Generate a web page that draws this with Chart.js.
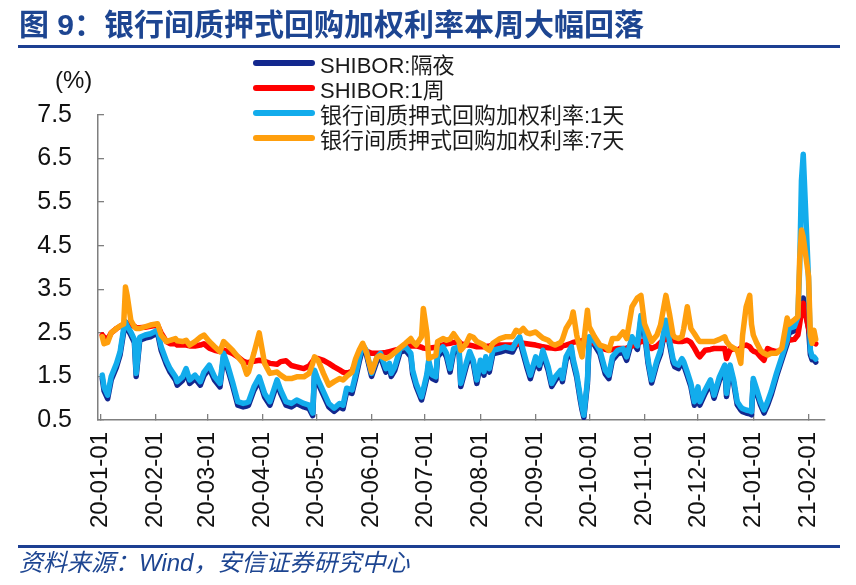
<!DOCTYPE html>
<html>
<head>
<meta charset="utf-8">
<script src="https://cdn.jsdelivr.net/npm/chart.js@4.4.1/dist/chart.umd.min.js"></script>
<style>
  body { margin: 0; background: #fff; }
  #wrap { position: relative; width: 856px; height: 585px; overflow: hidden; font-family: "Liberation Sans", "Noto Sans CJK SC", sans-serif; }
  #chart { position: absolute; left: 0; top: 0; }
  .title { position: absolute; left: 19px; top: 7px; font-size: 30px; line-height: 36px; font-weight: bold; color: #1d4591; white-space: nowrap; }
  .rule { position: absolute; left: 18px; width: 822px; height: 3px; background: #1d3f92; }
  .unit { position: absolute; left: 55px; top: 65px; font-size: 24px; line-height: 30px; color: #111; }
  #legend { position: absolute; left: 253px; top: 50px; font-size: 22px; color: #1a1a1a; }
  #legend .row { display: flex; align-items: center; height: 25px; white-space: nowrap; }
  #legend .swatch { width: 62px; height: 6px; border-radius: 3px; margin-right: 5px; }
  .source { position: absolute; left: 19px; top: 548px; font-size: 24px; line-height: 30px; font-style: italic; color: #1d4591; white-space: nowrap; }
</style>
</head>
<body>
<div id="wrap">
  <canvas id="chart" width="856" height="585"></canvas>
  <div class="title">图 9：银行间质押式回购加权利率本周大幅回落</div>
  <div class="rule" style="top:45px"></div>
  <div class="unit">(%)</div>
  <div id="legend"></div>
  <div class="rule" style="top:545px"></div>
  <div class="source">资料来源：Wind，安信证券研究中心</div>
</div>
<script>
const dates = [
  '2020-01-02','2020-01-03','2020-01-05','2020-01-07','2020-01-10','2020-01-12','2020-01-14','2020-01-15','2020-01-16','2020-01-18',
  '2020-01-20','2020-01-21','2020-01-23','2020-01-26','2020-01-29','2020-02-02','2020-02-04','2020-02-07','2020-02-09','2020-02-12',
  '2020-02-13','2020-02-16','2020-02-18','2020-02-20','2020-02-23','2020-02-26','2020-02-28','2020-03-02','2020-03-05','2020-03-08',
  '2020-03-10','2020-03-12','2020-03-15','2020-03-18','2020-03-21','2020-03-23','2020-03-24','2020-03-27','2020-03-30','2020-04-02',
  '2020-04-05','2020-04-09','2020-04-11','2020-04-14','2020-04-17','2020-04-20','2020-04-24','2020-04-27','2020-04-29','2020-04-30',
  '2020-05-02','2020-05-05','2020-05-08','2020-05-11','2020-05-14','2020-05-16','2020-05-18','2020-05-21','2020-05-23','2020-05-25',
  '2020-05-27','2020-05-29','2020-06-01','2020-06-04','2020-06-06','2020-06-09','2020-06-11','2020-06-12','2020-06-14','2020-06-17',
  '2020-06-20','2020-06-23','2020-06-24','2020-06-26','2020-06-29','2020-06-30','2020-07-02','2020-07-03','2020-07-05','2020-07-07',
  '2020-07-08','2020-07-11','2020-07-13','2020-07-15','2020-07-17','2020-07-20','2020-07-21','2020-07-24','2020-07-26','2020-07-28',
  '2020-07-30','2020-08-01','2020-08-03','2020-08-04','2020-08-06','2020-08-08','2020-08-12','2020-08-15','2020-08-19','2020-08-21',
  '2020-08-23','2020-08-25','2020-08-27','2020-08-29','2020-09-01','2020-09-03','2020-09-05','2020-09-08','2020-09-10','2020-09-12',
  '2020-09-15','2020-09-16','2020-09-18','2020-09-21','2020-09-22','2020-09-24','2020-09-26','2020-09-27','2020-09-28','2020-09-30',
  '2020-10-01','2020-10-04','2020-10-07','2020-10-10','2020-10-12','2020-10-14','2020-10-17','2020-10-20','2020-10-22','2020-10-25',
  '2020-10-28','2020-10-30','2020-11-01','2020-11-03','2020-11-05','2020-11-08','2020-11-10','2020-11-13','2020-11-15','2020-11-17',
  '2020-11-18','2020-11-20','2020-11-22','2020-11-23','2020-11-25','2020-11-27','2020-11-29','2020-12-01','2020-12-02','2020-12-05',
  '2020-12-08','2020-12-10','2020-12-13','2020-12-16','2020-12-17','2020-12-19','2020-12-21','2020-12-23','2020-12-25','2020-12-26',
  '2020-12-28','2020-12-30','2020-12-31','2021-01-01','2021-01-03','2021-01-05','2021-01-07','2021-01-09','2021-01-11','2021-01-14',
  '2021-01-17','2021-01-20','2021-01-21','2021-01-24','2021-01-26','2021-01-27','2021-01-28','2021-01-29','2021-02-01','2021-02-02',
  '2021-02-03','2021-02-04','2021-02-05'
];

// SHIBOR:隔夜
const shiborON = [
  1.45,1.17,0.99,1.42,1.72,2.00,2.52,2.70,2.60,2.45,
  2.28,1.50,2.33,2.38,2.41,2.50,2.10,1.77,1.60,1.42,
  1.30,1.41,1.60,1.34,1.45,1.30,1.52,1.68,1.41,1.26,
  1.95,1.72,1.30,0.84,0.80,0.82,0.84,1.18,1.41,1.03,
  0.84,1.34,1.11,0.84,0.80,0.88,0.80,0.76,0.60,1.56,
  1.34,1.07,0.80,0.70,0.80,0.76,1.15,1.11,1.45,1.83,
  2.15,2.02,1.50,1.86,1.95,1.60,1.72,1.50,1.64,2.06,
  2.10,1.95,1.56,1.27,0.96,1.12,1.47,1.80,1.45,1.41,
  1.95,2.10,1.95,1.60,2.06,2.10,1.27,1.72,2.00,1.80,
  1.34,1.80,1.53,1.87,1.60,2.02,2.06,2.10,2.06,2.22,
  2.33,2.02,1.72,1.45,1.87,1.68,2.02,1.64,1.27,1.41,
  1.56,1.38,1.87,2.10,1.82,1.48,0.96,0.73,0.56,1.33,
  2.33,2.22,2.02,1.56,1.45,1.87,2.02,2.06,1.87,2.33,
  2.12,2.80,2.52,1.80,1.35,1.80,2.02,2.70,2.25,1.82,
  1.72,1.68,1.83,1.76,1.52,1.27,0.84,1.18,0.84,1.11,
  1.34,1.00,1.41,1.68,1.04,1.68,1.35,0.85,0.73,0.69,
  0.66,0.64,0.62,1.38,1.11,0.85,0.66,0.84,1.07,1.50,
  1.88,2.25,2.50,2.55,2.78,3.00,3.20,3.30,2.60,2.00,
  1.88,1.88,1.83
];

// SHIBOR:1周
const shibor1W = [
  2.45,2.40,2.35,2.50,2.60,2.65,2.70,2.75,2.72,2.68,
  2.65,2.62,2.62,2.63,2.65,2.68,2.50,2.30,2.25,2.25,
  2.22,2.22,2.22,2.20,2.20,2.22,2.25,2.15,2.10,2.07,
  2.10,2.08,2.03,1.95,1.85,1.82,1.82,1.85,1.87,1.85,
  1.80,1.78,1.84,1.86,1.75,1.72,1.68,1.74,1.85,1.91,
  1.91,1.87,1.80,1.72,1.65,1.60,1.57,1.62,1.80,2.00,
  2.14,2.08,2.03,2.03,2.03,2.05,2.07,2.08,2.10,2.13,
  2.18,2.20,2.20,2.20,2.17,2.15,2.14,2.15,2.16,2.17,
  2.20,2.22,2.25,2.26,2.28,2.30,2.25,2.22,2.22,2.20,
  2.18,2.18,2.18,2.19,2.20,2.22,2.22,2.22,2.22,2.24,
  2.25,2.26,2.25,2.24,2.22,2.20,2.18,2.16,2.15,2.14,
  2.16,2.20,2.22,2.26,2.28,2.30,2.31,2.32,2.33,2.33,
  2.30,2.26,2.20,2.12,2.10,2.12,2.14,2.14,2.15,2.20,
  2.25,2.30,2.30,2.20,2.14,2.20,2.28,2.37,2.35,2.33,
  2.31,2.30,2.30,2.31,2.33,2.28,2.15,2.00,1.95,2.10,
  2.12,2.14,2.14,2.14,1.91,2.10,2.14,2.10,2.15,2.20,
  2.22,2.18,2.12,2.08,2.05,1.95,1.87,2.14,2.10,2.07,
  2.10,2.30,2.33,2.35,2.45,2.70,3.00,3.18,2.60,2.40,
  2.30,2.28,2.25
];

// 银行间质押式回购加权利率:1天
const repo1D = [
  1.53,1.25,1.07,1.50,1.80,2.07,2.60,2.75,2.65,2.52,
  2.35,1.57,2.40,2.45,2.48,2.56,2.18,1.85,1.68,1.50,
  1.38,1.49,1.68,1.42,1.53,1.38,1.60,1.76,1.49,1.34,
  2.03,1.80,1.38,0.92,0.88,0.90,0.92,1.26,1.49,1.11,
  0.92,1.42,1.19,0.92,0.88,0.96,0.88,0.84,0.66,1.64,
  1.42,1.15,0.88,0.77,0.88,0.84,1.23,1.19,1.53,1.91,
  2.22,2.10,1.57,1.94,2.03,1.68,1.80,1.57,1.72,2.14,
  2.18,2.03,1.64,1.34,1.03,1.20,1.55,1.87,1.53,1.49,
  2.03,2.18,2.03,1.68,2.14,2.18,1.34,1.80,2.07,1.87,
  1.42,1.87,1.61,1.95,1.68,2.10,2.14,2.18,2.14,2.30,
  2.41,2.10,1.80,1.53,1.95,1.76,2.10,1.72,1.34,1.49,
  1.64,1.45,1.95,2.18,1.90,1.55,1.03,0.80,0.61,1.40,
  2.41,2.30,2.10,1.64,1.53,1.95,2.10,2.14,1.95,2.41,
  2.20,2.90,2.60,1.87,1.42,1.87,2.10,2.79,2.33,1.90,
  1.80,1.76,1.91,1.84,1.60,1.34,0.92,1.26,0.92,1.19,
  1.42,1.07,1.49,1.76,1.11,1.76,1.42,0.92,0.80,0.76,
  0.73,0.71,0.69,1.45,1.19,0.92,0.73,0.92,1.15,1.57,
  1.95,2.33,2.60,2.64,2.87,4.00,6.00,6.60,3.70,2.10,
  1.95,1.95,1.90
];

// 银行间质押式回购加权利率:7天
const repo7D = [
  2.41,2.25,2.28,2.50,2.60,2.66,2.70,3.55,3.35,2.79,
  2.64,2.60,2.60,2.64,2.68,2.71,2.45,2.30,2.33,2.37,
  2.32,2.30,2.33,2.22,2.30,2.40,2.45,2.30,2.18,2.07,
  2.30,2.22,2.10,1.95,1.80,1.55,1.60,2.03,2.50,1.80,
  1.57,1.60,1.53,1.45,1.45,1.49,1.49,1.57,1.80,1.95,
  1.87,1.57,1.30,1.38,1.45,1.42,1.50,1.60,1.90,2.10,
  2.26,2.07,1.60,1.94,1.98,1.91,1.95,1.98,2.05,2.16,
  2.26,2.37,2.30,2.22,2.41,3.06,2.50,1.91,1.95,1.98,
  2.30,2.37,2.33,2.36,2.48,2.30,2.10,2.25,2.43,2.40,
  2.30,2.26,2.22,2.16,2.10,2.26,2.37,2.41,2.41,2.56,
  2.52,2.60,2.50,2.48,2.52,2.45,2.38,2.33,2.25,2.22,
  2.28,2.35,2.60,2.80,2.98,2.45,2.10,1.95,2.30,3.02,
  2.64,2.41,2.22,2.18,2.10,2.37,2.37,2.52,2.37,3.10,
  3.30,3.36,2.71,2.50,2.30,2.45,2.68,3.36,2.94,2.45,
  2.40,2.37,2.41,2.60,3.10,2.60,2.48,2.35,2.30,2.30,
  2.30,2.30,2.35,2.41,2.30,2.20,2.15,2.10,1.80,2.45,
  3.10,3.36,2.70,2.45,2.26,2.10,2.03,1.99,2.03,2.03,
  2.15,2.84,2.70,2.80,2.87,4.20,4.86,4.70,3.79,2.45,
  2.26,2.56,2.35
];

const yTicks = [0.5, 1.5, 2.5, 3.5, 4.5, 5.5, 6.5, 7.5];
const xTickLabels = ['20-01-01','20-02-01','20-03-01','20-04-01','20-05-01','20-06-01','20-07-01',
  '20-08-01','20-09-01','20-10-01','20-11-01','20-12-01','21-01-01','21-02-01'];

const day0 = Date.UTC(2020, 0, 1);
function dayNum(y, m, d) {
  return (Date.UTC(y, m - 1, d) - day0) / 86400000;
}
function fromIso(s) {
  const p = s.split('-').map(Number);
  return dayNum(p[0], p[1], p[2]);
}
function fromTick(s) {
  const p = s.split('-').map(Number);
  return dayNum(2000 + p[0], p[1], p[2]);
}
const tickDays = xTickLabels.map(fromTick);

function points(values) {
  return dates.map((d, i) => ({ x: fromIso(d), y: values[i] }));
}

function lineSet(label, values, color, order) {
  return {
    label: label,
    data: points(values),
    borderColor: color,
    backgroundColor: color,
    borderWidth: 5.5,
    pointRadius: 0,
    tension: 0,
    borderJoinStyle: 'round',
    borderCapStyle: 'round',
    order: order
  };
}

const axisGray = '#7f7f7f';
const labelFont = { family: '"Liberation Sans", Arial, sans-serif' };

const chart = new Chart(document.getElementById('chart'), {
  type: 'line',
  data: {
    datasets: [
      lineSet('SHIBOR:隔夜', shiborON, '#13288e', 4),
      lineSet('SHIBOR:1周', shibor1W, '#ff0000', 3),
      lineSet('银行间质押式回购加权利率:1天', repo1D, '#12acec', 2),
      lineSet('银行间质押式回购加权利率:7天', repo7D, '#ff9f0d', 1)
    ]
  },
  options: {
    responsive: false,
    animation: false,
    events: [],
    layout: { padding: { top: 115, right: 28, bottom: 0, left: 0 } },
    plugins: {
      legend: { display: false },
      tooltip: { enabled: false }
    },
    scales: {
      x: {
        type: 'linear',
        min: -1.4,
        max: 406,
        afterBuildTicks: axis => { axis.ticks = tickDays.map(v => ({ value: v })); },
        afterFit: axis => { axis.height = 165; },
        ticks: {
          autoSkip: false,
          minRotation: 90,
          maxRotation: 90,
          padding: 18,
          color: '#111',
          font: Object.assign({ size: 24 }, labelFont),
          callback: (v, i) => xTickLabels[i]
        },
        grid: { drawOnChartArea: false, drawTicks: true, tickLength: -6, color: axisGray, lineWidth: 1.3 },
        border: { color: axisGray, width: 1.5 }
      },
      y: {
        min: 0.5,
        max: 7.5,
        afterBuildTicks: axis => { axis.ticks = yTicks.map(v => ({ value: v })); },
        afterFit: axis => { axis.width = 98; },
        ticks: {
          padding: 32,
          color: '#111',
          font: Object.assign({ size: 25 }, labelFont),
          callback: v => v.toFixed(1)
        },
        grid: { drawOnChartArea: false, drawTicks: true, tickLength: -6, color: axisGray, lineWidth: 1.3 },
        border: { color: axisGray, width: 1.5 }
      }
    }
  }
});

// legend built from the chart's datasets
const legendBox = document.getElementById('legend');
chart.data.datasets.forEach(ds => {
  const row = document.createElement('div');
  row.className = 'row';
  const sw = document.createElement('span');
  sw.className = 'swatch';
  sw.style.background = ds.borderColor;
  const txt = document.createElement('span');
  txt.textContent = ds.label;
  row.appendChild(sw);
  row.appendChild(txt);
  legendBox.appendChild(row);
});
</script>
</body>
</html>
